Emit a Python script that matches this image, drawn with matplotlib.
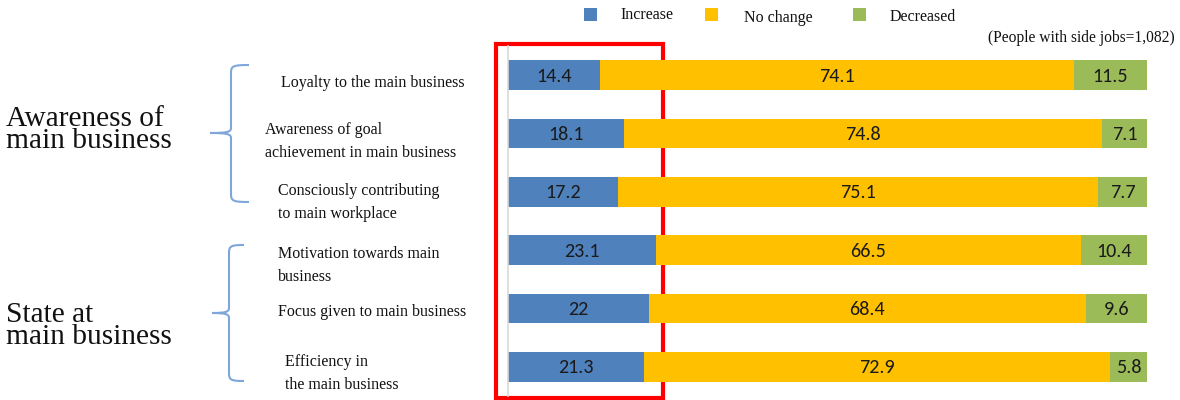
import matplotlib
matplotlib.use("Agg")
import matplotlib.pyplot as plt
from matplotlib.path import Path
from matplotlib.patches import PathPatch, Rectangle

# ---------------- data ----------------
categories = [
    "Loyalty to the main business",
    "Awareness of goal\nachievement in main business",
    "Consciously contributing\nto main workplace",
    "Motivation towards main\nbusiness",
    "Focus given to main business",
    "Efficiency in\nthe main business",
]
increase = [14.4, 18.1, 17.2, 23.1, 22, 21.3]
no_change = [74.1, 74.8, 75.1, 66.5, 68.4, 72.9]
decreased = [11.5, 7.1, 7.7, 10.4, 9.6, 5.8]
series_names = ["Increase", "No change", "Decreased"]
group_labels = ["Awareness of\nmain business", "State at\nmain business"]
note = "(People with side jobs=1,082)"

colors = ["#4F81BD", "#FFC000", "#9BBB59"]
SERIF = ["Liberation Serif", "DejaVu Serif"]
NUMF = ["Carlito", "Lato", "DejaVu Sans"]

W, H = 1180, 400
fig = plt.figure(figsize=(W / 100, H / 100), dpi=100)

# overlay axes in pixel coordinates for decorations
ov = fig.add_axes([0, 0, 1, 1])
ov.set_xlim(0, W)
ov.set_ylim(H, 0)
ov.axis("off")

# main bar axes
x0, x1 = 508, 1147
ytop, ybot = 46, 396
ax = fig.add_axes([x0 / W, 1 - ybot / H, (x1 - x0) / W, (ybot - ytop) / H])
n = len(categories)
ypos = list(range(n))
series = [increase, no_change, decreased]
left = [0.0] * n
for vals, col in zip(series, colors):
    bars = ax.barh(ypos, vals, left=left, height=0.51, color=col,
                   edgecolor="none", zorder=2)
    for b, v, l in zip(bars, vals, left):
        ax.text(l + v / 2, b.get_y() + b.get_height() / 2 + 0.02, f"{v:g}",
                ha="center", va="center", fontsize=14.5, family=NUMF,
                color="#1a1a1a", zorder=3)
    left = [a + v for a, v in zip(left, vals)]
ax.set_xlim(0, 100)
ax.set_ylim(n - 0.5, -0.5)
ax.set_xticks([])
ax.set_yticks([])
for s in ["top", "right", "bottom"]:
    ax.spines[s].set_visible(False)
ax.spines["left"].set_color("#d9d9d9")
ax.spines["left"].set_linewidth(1.2)
ax.patch.set_alpha(0)

# category labels (x left in px, y offset in px from bar center)
lab_x = [281, 265, 278, 278, 278, 285]
lab_dy = [8, 8, 11, 15, 4, 7]
for i, lab in enumerate(categories):
    yc = ytop + (i + 0.5) * (ybot - ytop) / n + lab_dy[i]
    ov.text(lab_x[i], yc, lab, ha="left", va="center", fontsize=11.5,
            family=SERIF, linespacing=1.6, color="#111111")

# group labels
grp_y = [130, 326]
for gl, gy in zip(group_labels, grp_y):
    ov.text(6, gy, gl, ha="left", va="center", fontsize=21.2,
            family=SERIF, linespacing=0.8, color="#111111")

# braces
def brace(xtip, xv, xend, ytop_, ymid, ybot_):
    verts = [
        (xend, ytop_), (xv + 2, ytop_), (xv, ytop_ + 1), (xv, ytop_ + 8),
        (xv, ymid - 5),
        (xv, ymid - 1), (xv - 4, ymid), (xtip, ymid),
        (xv - 4, ymid), (xv, ymid + 1), (xv, ymid + 5),
        (xv, ybot_ - 8),
        (xv, ybot_ - 1), (xv + 2, ybot_), (xend, ybot_),
    ]
    codes = [Path.MOVETO, Path.CURVE4, Path.CURVE4, Path.CURVE4,
             Path.LINETO,
             Path.CURVE4, Path.CURVE4, Path.CURVE4,
             Path.CURVE4, Path.CURVE4, Path.CURVE4,
             Path.LINETO,
             Path.CURVE4, Path.CURVE4, Path.CURVE4]
    ov.add_patch(PathPatch(Path(verts, codes), fill=False,
                           edgecolor="#7FA6DA", lw=1.5))

brace(210, 231, 249, 65, 133, 202)
brace(212, 229, 244, 245, 313, 381)

# legend
leg_sq_x = [584, 705, 853]
leg_tx = [620, 744, 890]
leg_ty = [15, 18, 17]
for name, col, sx, tx, ty in zip(series_names, colors, leg_sq_x, leg_tx, leg_ty):
    ov.add_patch(Rectangle((sx, 8), 13, 13, facecolor=col, edgecolor="none"))
    ov.text(tx, ty, name, ha="left", va="center", fontsize=11.5,
            family=SERIF, color="#111111")

ov.text(1175, 38, note, ha="right", va="center", fontsize=11.2,
        family=SERIF, color="#111111")

# red highlight box
ov.add_patch(Rectangle((496, 44), 167, 354, fill=False, edgecolor="#FF0000",
                       lw=3, zorder=5))

fig.savefig("out.png", dpi=100)
